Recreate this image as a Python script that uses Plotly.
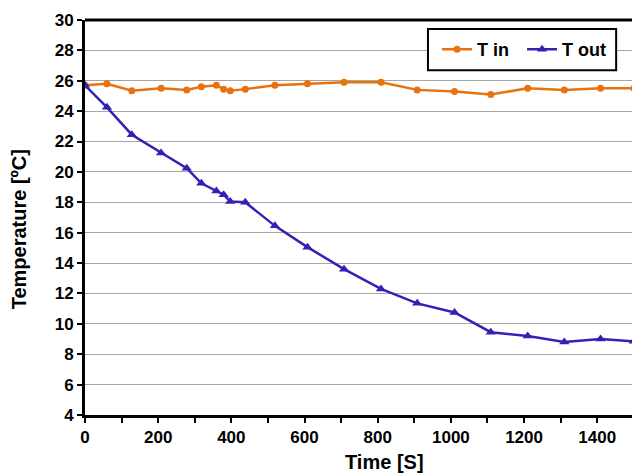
import plotly.graph_objects as go

time_in = [0, 60, 128, 208, 278, 318, 359, 379, 397, 438, 519, 608, 708, 809, 908, 1010, 1109, 1210, 1310, 1409, 1500]
t_in = [25.7, 25.8, 25.35, 25.5, 25.4, 25.6, 25.7, 25.45, 25.35, 25.45, 25.7, 25.8, 25.9, 25.9, 25.4, 25.3, 25.1, 25.5, 25.4, 25.5, 25.5]
time_out = [0, 60, 128, 208, 278, 318, 359, 379, 397, 438, 519, 608, 708, 809, 908, 1010, 1109, 1210, 1310, 1409, 1500]
t_out = [25.7, 24.25, 22.45, 21.25, 20.25, 19.25, 18.75, 18.5, 18.05, 18.0, 16.45, 15.05, 13.6, 12.3, 11.35, 10.75, 9.45, 9.2, 8.8, 9.0, 8.85]

x_ticks = [0, 200, 400, 600, 800, 1000, 1200, 1400]
y_ticks = list(range(4, 31, 2))

ORANGE = "#E8730E"
BLUE = "#3122B5"
FONT = "Liberation Sans"

fig = go.Figure()
fig.add_trace(go.Scatter(x=time_in, y=t_in, name="T in", mode="lines+markers",
                         line=dict(color=ORANGE, width=2.5),
                         marker=dict(symbol="circle", size=7, color=ORANGE)))
fig.add_trace(go.Scatter(x=time_out, y=t_out, name="T out", mode="lines+markers",
                         line=dict(color=BLUE, width=2.5),
                         marker=dict(symbol="triangle-up", size=9, color=BLUE)))

fig.update_layout(
    width=632, height=475,
    margin=dict(l=85, r=0, t=20, b=60),
    plot_bgcolor="white", paper_bgcolor="white",
    font=dict(family=FONT, color="black"),
    showlegend=True,
    legend=dict(orientation="h", x=0.799, y=0.925, xanchor="center", yanchor="middle",
                borderwidth=0, bgcolor="rgba(0,0,0,0)",
                font=dict(size=18, family=FONT, weight="bold"),
                itemwidth=30, entrywidth=40, tracegroupgap=0),
    xaxis=dict(range=[0, 1495], tickvals=x_ticks, ticks="outside", ticklen=5,
               tickwidth=1.5, tickcolor="black",
               minor=dict(dtick=100, ticks="outside", ticklen=5, tickcolor="black", tickwidth=1.5, showgrid=False),
               showline=True, linecolor="black", linewidth=3, showgrid=False, zeroline=False,
               tickfont=dict(size=17, family=FONT, weight="bold")),
    yaxis=dict(range=[4, 30], tickvals=y_ticks, ticks="outside", ticklen=5,
               tickwidth=1.5, tickcolor="black",
               showline=True, linecolor="black", linewidth=3, showgrid=True,
               gridcolor="#A6A6A6", gridwidth=1.2, zeroline=False,
               tickfont=dict(size=17, family=FONT, weight="bold")),
    shapes=[dict(type="line", xref="paper", yref="paper", x0=0, x1=1, y0=1, y1=1,
                 line=dict(color="black", width=3)),
            dict(type="rect", xref="paper", yref="paper", x0=0.627, x1=0.971, y0=0.873, y1=0.977,
                 fillcolor="white", line=dict(color="black", width=2), layer="above")],
    annotations=[
        dict(text="Time [S]", xref="paper", yref="paper", x=0.547, y=-0.12, xanchor="center", yanchor="middle",
             showarrow=False, font=dict(size=20, family=FONT, weight="bold")),
        dict(text="Temperature [ºC]", xref="paper", yref="paper", x=-0.12, y=0.471, xanchor="center", yanchor="middle",
             textangle=-90, showarrow=False, font=dict(size=20, family=FONT, weight="bold")),
    ],
)

fig.write_html("out.html")
